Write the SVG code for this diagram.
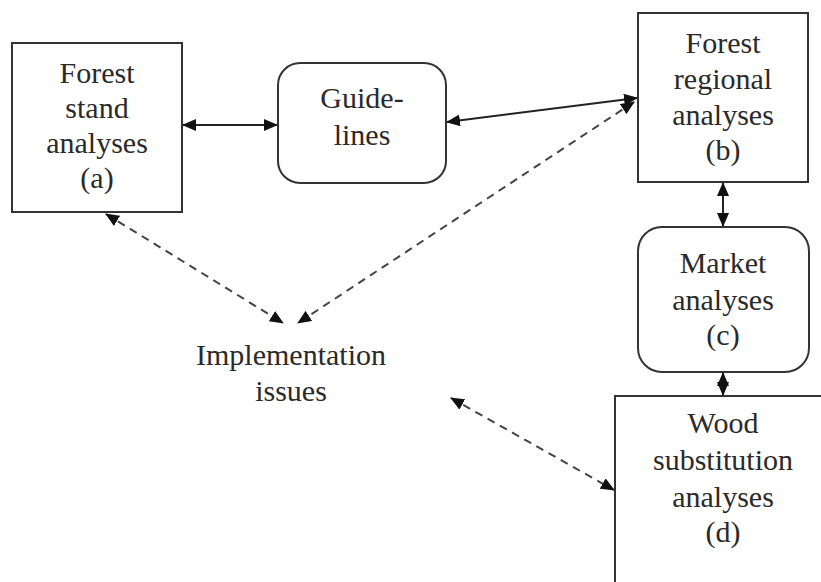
<svg xmlns="http://www.w3.org/2000/svg" width="821" height="582" viewBox="0 0 821 582">
<style>
.box{fill:#fff;stroke:#333;stroke-width:2}
.t{font-family:"Liberation Serif","Times New Roman",serif;font-size:30px;fill:#2a2a2a;text-anchor:middle}
.c{fill:none;stroke:#222;stroke-width:2}
.d{fill:none;stroke:#444;stroke-width:2;stroke-dasharray:8 6}
</style>
<defs>
<marker id="ah" viewBox="0 0 14 12" refX="13" refY="6" markerWidth="14" markerHeight="12" markerUnits="userSpaceOnUse" orient="auto-start-reverse">
<path d="M0,0 L14,6 L0,12 Z" fill="#111"/>
</marker>
</defs>
<rect width="821" height="582" fill="#fff"/>
<g id="connectors">
<line class="c" x1="183" y1="125" x2="277" y2="125" marker-start="url(#ah)" marker-end="url(#ah)"/>
<line class="c" x1="447" y1="122" x2="637" y2="98" marker-start="url(#ah)" marker-end="url(#ah)"/>
<line class="c" x1="723" y1="183" x2="723" y2="226" marker-start="url(#ah)" marker-end="url(#ah)"/>
<line class="c" x1="723" y1="373" x2="723" y2="395" marker-start="url(#ah)" marker-end="url(#ah)"/>
<line class="d" x1="106" y1="214" x2="283" y2="323" marker-start="url(#ah)" marker-end="url(#ah)"/>
<line class="d" x1="634" y1="102" x2="298" y2="323" marker-start="url(#ah)" marker-end="url(#ah)"/>
<line class="d" x1="451" y1="398" x2="614" y2="490" marker-start="url(#ah)" marker-end="url(#ah)"/>
</g>
<g id="node-a">
<rect class="box" x="12" y="43" width="170" height="169"/>
<text class="t" x="97" y="83">Forest</text>
<text class="t" x="97" y="118">stand</text>
<text class="t" x="97" y="153">analyses</text>
<text class="t" x="97" y="188">(a)</text>
</g>
<g id="node-guidelines">
<rect class="box" x="278" y="63" width="168" height="120" rx="22"/>
<text class="t" x="362" y="108">Guide-</text>
<text class="t" x="362" y="145">lines</text>
</g>
<g id="node-b">
<rect class="box" x="638" y="13" width="170" height="169"/>
<text class="t" x="723" y="53">Forest</text>
<text class="t" x="723" y="89">regional</text>
<text class="t" x="723" y="125">analyses</text>
<text class="t" x="723" y="160">(b)</text>
</g>
<g id="node-c">
<rect class="box" x="638" y="227" width="171" height="145" rx="24"/>
<text class="t" x="723" y="273">Market</text>
<text class="t" x="723" y="310">analyses</text>
<text class="t" x="723" y="345">(c)</text>
</g>
<g id="node-d">
<rect class="box" x="615" y="396" width="215" height="200"/>
<text class="t" x="723" y="433">Wood</text>
<text class="t" x="723" y="470">substitution</text>
<text class="t" x="723" y="507">analyses</text>
<text class="t" x="723" y="542">(d)</text>
</g>
<g id="node-implementation">
<text class="t" x="291" y="365">Implementation</text>
<text class="t" x="291" y="401">issues</text>
</g>
</svg>
